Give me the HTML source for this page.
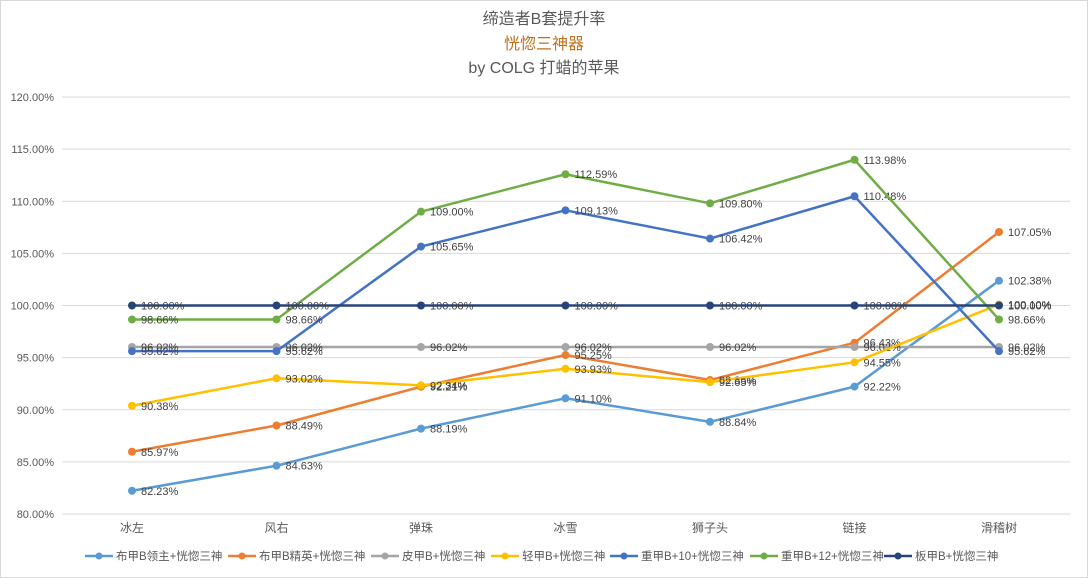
<!DOCTYPE html>
<html><head><meta charset="utf-8"><style>
body{margin:0;background:#fff;}
svg{display:block;font-family:"Liberation Sans","Noto Sans CJK SC",sans-serif;}
</style></head><body>
<svg id="chart" width="1088" height="578">
<rect x="0.5" y="0.5" width="1087" height="577" fill="#fff" stroke="#d9d9d9"/>
<text x="544" y="24" text-anchor="middle" font-size="16" fill="#595959">缔造者B套提升率</text>
<text x="544" y="49" text-anchor="middle" font-size="16" fill="#C07020">恍惚三神器</text>
<text x="544" y="73" text-anchor="middle" font-size="16" fill="#595959">by COLG 打蜡的苹果</text>
<g id="grid"></g><g id="series"></g><g id="legend"></g>
</svg>
<script>
const categories=["冰左","风右","弹珠","冰雪","狮子头","链接","滑稽树"];
const yTicks=[80,85,90,95,100,105,110,115,120];
const seriesNames=["布甲B领主+恍惚三神","布甲B精英+恍惚三神","皮甲B+恍惚三神","轻甲B+恍惚三神","重甲B+10+恍惚三神","重甲B+12+恍惚三神","板甲B+恍惚三神"];
const s1=[82.23,84.63,88.19,91.10,88.84,92.22,102.38];
const s2=[85.97,88.49,92.21,95.25,92.85,96.43,107.05];
const s3=[96.02,96.02,96.02,96.02,96.02,96.02,96.02];
const s4=[90.38,93.02,92.34,93.93,92.65,94.55,100.10];
const s5=[95.62,95.62,105.65,109.13,106.42,110.48,95.62];
const s6=[98.66,98.66,109.00,112.59,109.80,113.98,98.66];
const s7=[100,100,100,100,100,100,100];
const allSeries=[s1,s2,s3,s4,s5,s6,s7];
const colors=["#5B9BD5","#ED7D31","#A5A5A5","#FFC000","#4472C4","#70AD47","#264478"];
const NS="http://www.w3.org/2000/svg";
const x=i=>132+i*144.5;
const y=v=>514-(v-80)*(417/40);
function mk(tag,attrs,parent,txt){const e=document.createElementNS(NS,tag);for(const k in attrs)e.setAttribute(k,attrs[k]);if(txt!==undefined)e.textContent=txt;parent.appendChild(e);return e;}
const grid=document.getElementById('grid');
yTicks.forEach(t=>{
  const l=mk('line',{x1:62,x2:1070,y1:y(t),y2:y(t),stroke:'#d9d9d9'},grid);
  
  
  const tx=mk('text',{x:54,y:y(t)+4,'text-anchor':'end','font-size':11,fill:'#595959'},grid,t.toFixed(2)+'%');
  
  
});
categories.forEach((c,i)=>{
  const tx=mk('text',{x:x(i),y:532,'text-anchor':'middle','font-size':12,fill:'#595959'},grid,c);
  
  
});
const sg=document.getElementById('series');
allSeries.forEach((d,si)=>{
  const g=mk('g',{},sg);
  
  
  const p=mk('polyline',{points:d.map((v,i)=>x(i)+','+y(v)).join(' '),fill:'none',stroke:colors[si],'stroke-width':2.5,'stroke-linejoin':'round'},g);
  
  
  d.forEach((v,i)=>{
    const c=mk('circle',{cx:x(i),cy:y(v),r:4,fill:colors[si]},g);
    
    
    const t=mk('text',{x:x(i)+9,y:y(v)+4,'font-size':11,fill:'#404040'},g,v.toFixed(2)+'%');
    
    
  });
});
const lg=document.getElementById('legend');
const lx=[85,228,371,491,610,750,884];
seriesNames.forEach((n,i)=>{
  const g=mk('g',{},lg);
  
  
  mk('line',{x1:lx[i],x2:lx[i]+28,y1:556,y2:556,stroke:colors[i],'stroke-width':2.5},g);
  mk('circle',{cx:lx[i]+14,cy:556,r:3.5,fill:colors[i]},g);
  mk('text',{x:lx[i]+31,y:560,'font-size':11.5,fill:'#595959'},g,n);
});
</script>
</body></html>
